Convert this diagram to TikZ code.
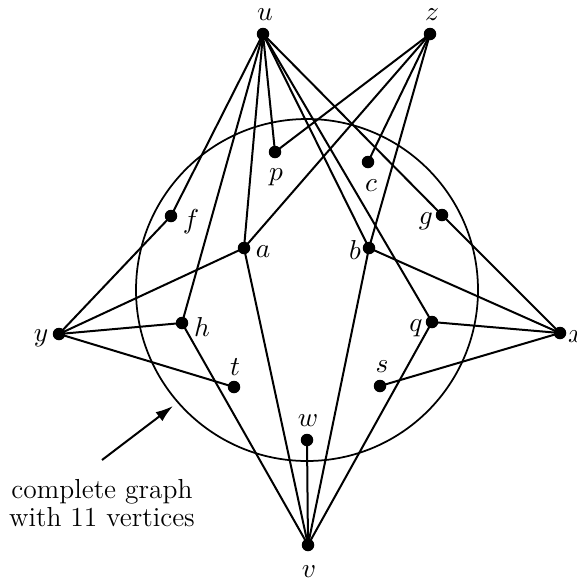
\documentclass[tikz,border=0pt]{standalone}
\usetikzlibrary{arrows.meta}
\begin{document}
\begin{tikzpicture}[x=0.4pt,y=-0.4pt,
  vtx/.style={circle,fill=black,inner sep=0pt,minimum size=5pt},
  lbl/.style={inner sep=0pt,font=\fontsize{11}{13}\selectfont},
  edge/.style={line width=0.8pt},
  every path/.style={line width=0.8pt}]
\useasboundingbox (0,0) rectangle (577,581);
% circle
\draw[line width=0.7pt] (307,290) circle [radius=171*0.4pt];
% vertices
\node[vtx] (u) at (263,34) {};
\node[vtx] (z) at (430,34) {};
\node[vtx] (p) at (275,152) {};
\node[vtx] (c) at (368,162) {};
\node[vtx] (f) at (171,216) {};
\node[vtx] (g) at (442,215) {};
\node[vtx] (a) at (244,248) {};
\node[vtx] (b) at (369,248) {};
\node[vtx] (y) at (59,334) {};
\node[vtx] (h) at (182,323) {};
\node[vtx] (q) at (432,322) {};
\node[vtx] (x) at (560,333) {};
\node[vtx] (t) at (234,387) {};
\node[vtx] (s) at (380,386) {};
\node[vtx] (w) at (307,440) {};
\node[vtx] (v) at (308,545) {};
% labels
\node[lbl] (lu) at (265,15) {$u$};
\node[lbl] (lz) at (432,15) {$z$};
\node[lbl] (lp) at (276,177) {$p$};
\node[lbl] (lc) at (371,186) {$c$};
\node[lbl] (lf) at (191,222) {$f$};
\node[lbl] (lg) at (426,221) {$g$};
\node[lbl] (la) at (263,252) {$a$};
\node[lbl] (lb) at (355,250) {$b$};
\node[lbl] (lh) at (202,327) {$h$};
\node[lbl] (lq) at (416,328) {$q$};
\node[lbl] (ly) at (41,338) {$y$};
\node[lbl] (lx) at (576,337) {$x$};
\node[lbl] (lt) at (235,367) {$t$};
\node[lbl] (ls) at (382,367) {$s$};
\node[lbl] (lw) at (308,421) {$w$};
\node[lbl] (lv) at (309,572) {$v$};
% edges from u
\foreach \n in {f,h,a,p,b,q,g} \draw[edge] (u.center) -- (\n.center);
% edges from z
\foreach \n in {p,a,c,b} \draw[edge] (z.center) -- (\n.center);
% edges from y
\foreach \n in {f,a,h,t} \draw[edge] (y.center) -- (\n.center);
% edges from x
\foreach \n in {g,b,q,s} \draw[edge] (x.center) -- (\n.center);
% edges from v
\foreach \n in {h,a,w,b,q} \draw[edge] (v.center) -- (\n.center);
% annotation
\node[align=center,inner sep=0pt,font=\fontsize{11}{11.5}\selectfont] (txt) at (102,503) {complete graph\\with 11 vertices};
\coordinate (atail) at (102,460);
\coordinate (ahead) at (173,406);
\draw[-{Latex[length=7pt,width=4.5pt]}] (atail) -- (ahead);
\end{tikzpicture}
\end{document}
